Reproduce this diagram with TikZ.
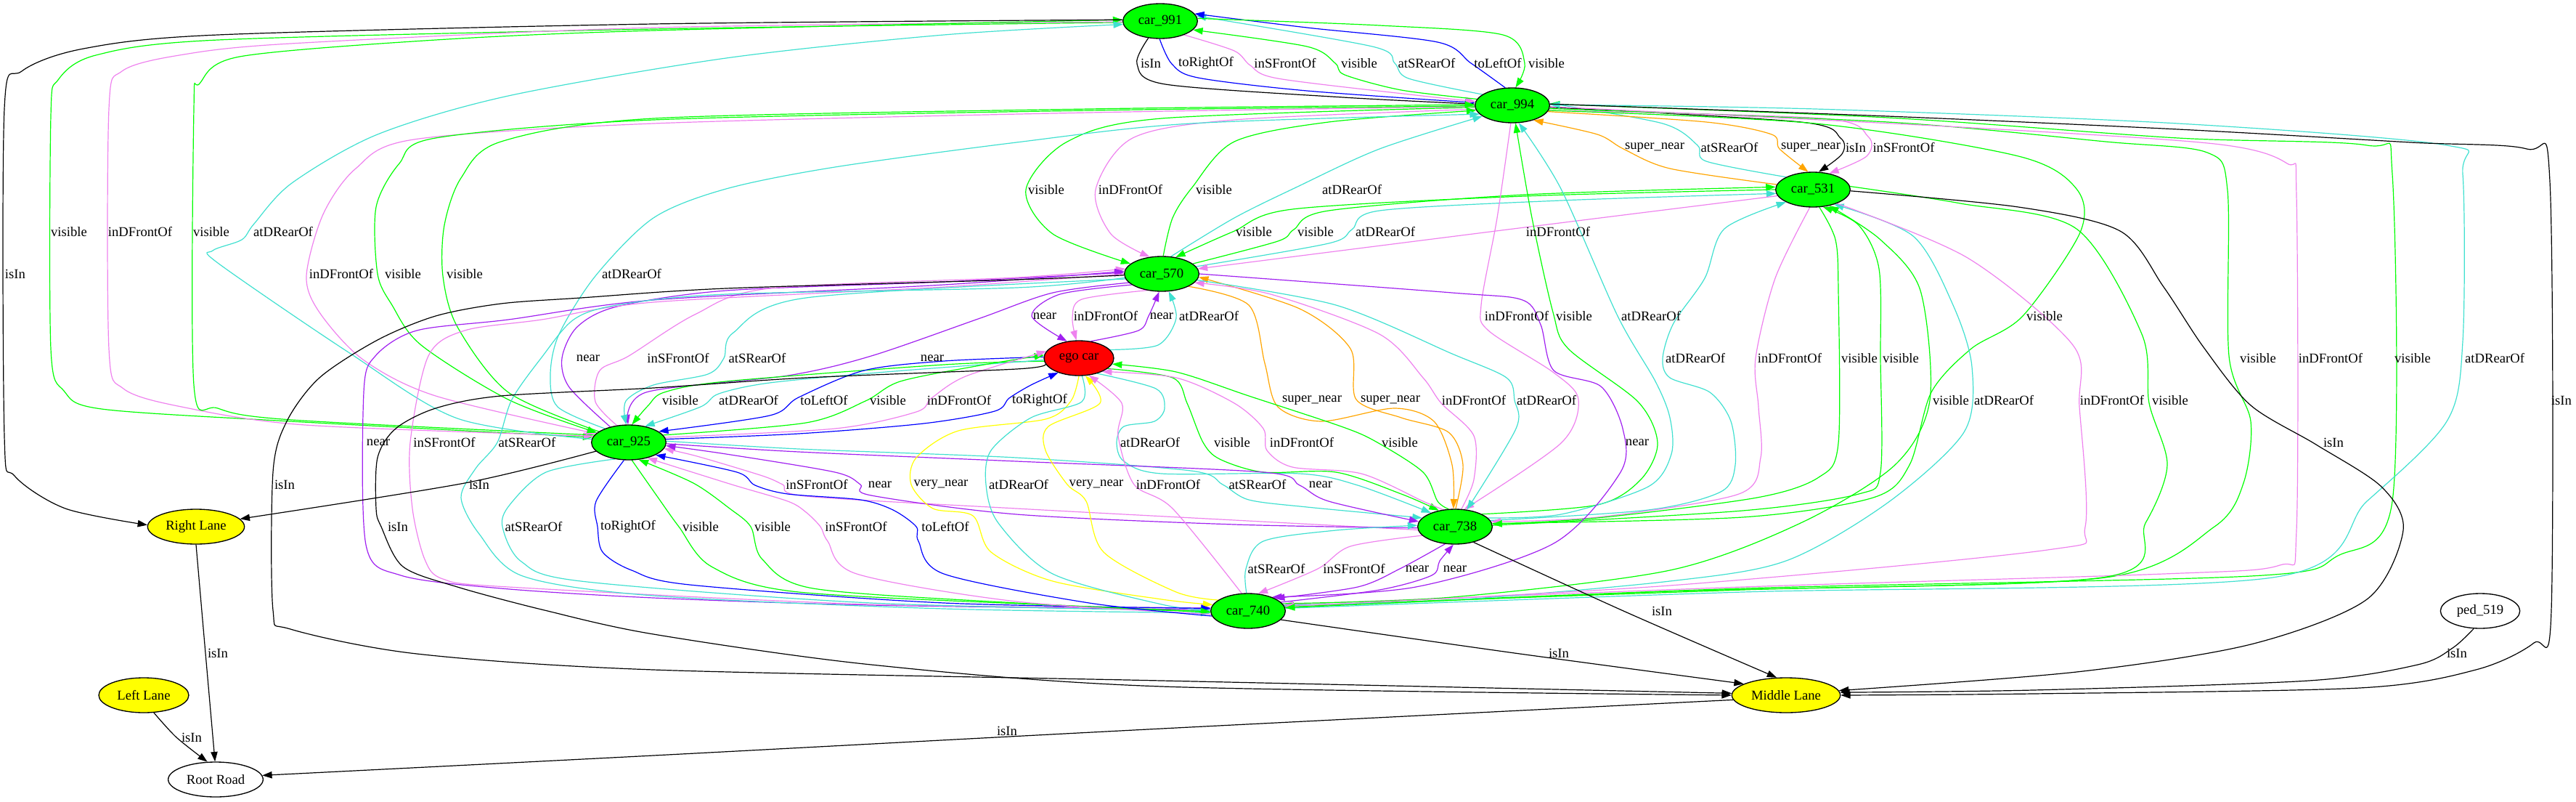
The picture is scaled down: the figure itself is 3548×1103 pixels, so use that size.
\documentclass[tikz,border=0pt]{standalone}
\usepackage{fontspec}
\setmainfont{Liberation Serif}
\usetikzlibrary{arrows.meta,shapes.geometric}
\definecolor{cgreen}{HTML}{00FF00}
\definecolor{cviolet}{HTML}{EE82EE}
\definecolor{cturq}{HTML}{40E0D0}
\definecolor{cblue}{HTML}{0000FF}
\definecolor{cpurple}{HTML}{A020F0}
\definecolor{corange}{HTML}{FFA500}
\definecolor{cyellow}{HTML}{FFFF00}
\definecolor{cred}{HTML}{FF0000}
\pgfdeclarelayer{bg}
\pgfsetlayers{bg,main}
\begin{document}
\begin{tikzpicture}[x=0.75pt,y=-0.75pt,
  every node/.style={font=\fontsize{14pt}{16pt}\selectfont},
  nd/.style={ellipse,draw=black,line width=1pt,inner sep=0pt,minimum height=36pt},
  car/.style={nd,fill=cgreen,minimum width=77pt},
  lane/.style={nd,fill=cyellow},
  lb/.style={inner sep=0pt},
  ed/.style={line width=0.9pt,-{Triangle[length=10pt,width=7pt]}},
]
\useasboundingbox (0,0) rectangle (3548,1103);
% nodes
\node[car] (N991) at (1598,29) {car\_991};
\node[car] (N994) at (2083,145) {car\_994};
\node[car] (N531) at (2497,261) {car\_531};
\node[car] (N570) at (1600,377) {car\_570};
\node[nd,fill=cred,minimum width=72pt] (Nego) at (1486,493) {ego car};
\node[car] (N925) at (866,609) {car\_925};
\node[car] (N738) at (2004,725) {car\_738};
\node[car] (N740) at (1719,841) {car\_740};
\node[lane,minimum width=100pt] (NRL) at (270,725) {Right Lane};
\node[lane,minimum width=93pt] (NLL) at (198,957) {Left Lane};
\node[nd,fill=white,minimum width=98pt] (NRR) at (297,1073) {Root Road};
\node[lane,minimum width=112pt] (NML) at (2460,957) {Middle Lane};
\node[nd,fill=white,minimum width=82pt] (Nped) at (3416,841) {ped\_519};
% labels
\node[lb] (l1) at (1585,87) {isIn};
\node[lb] (l2) at (1661,87) {toRightOf};
\node[lb] (l3) at (1770,87) {inSFrontOf};
\node[lb] (l4) at (1872,87) {visible};
\node[lb] (l5) at (1965,87) {atSRearOf};
\node[lb] (l6) at (2063,87) {toLeftOf};
\node[lb] (l7) at (2130,87) {visible};
\node[lb] (l8) at (2279,203) {super\_near};
\node[lb] (l9) at (2382,203) {atSRearOf};
\node[lb] (l10) at (2494,203) {super\_near};
\node[lb] (l11) at (2556,203) {isIn};
\node[lb] (l12) at (2622,203) {inSFrontOf};
\node[lb] (l13) at (1441,261) {visible};
\node[lb] (l14) at (1557,261) {inDFrontOf};
\node[lb] (l15) at (1672,261) {visible};
\node[lb] (l16) at (1862,261) {atDRearOf};
\node[lb] (l17) at (1727,319) {visible};
\node[lb] (l18) at (1812,319) {visible};
\node[lb] (l19) at (1908,319) {atDRearOf};
\node[lb] (l20) at (2146,319) {inDFrontOf};
\node[lb] (l21) at (95,319) {visible};
\node[lb] (l22) at (193,319) {inDFrontOf};
\node[lb] (l23) at (291,319) {visible};
\node[lb] (l24) at (390,319) {atDRearOf};
\node[lb] (l25) at (21,377) {isIn};
\node[lb] (l26) at (470,377) {inDFrontOf};
\node[lb] (l27) at (555,377) {visible};
\node[lb] (l28) at (640,377) {visible};
\node[lb] (l29) at (870,377) {atDRearOf};
\node[lb] (l30) at (1439,435) {near};
\node[lb] (l31) at (1523,435) {inDFrontOf};
\node[lb] (l32) at (1600,435) {near};
\node[lb] (l33) at (1665,435) {atDRearOf};
\node[lb] (l34) at (2089,435) {inDFrontOf};
\node[lb] (l35) at (2168,435) {visible};
\node[lb] (l36) at (2274,435) {atDRearOf};
\node[lb] (l37) at (2816,435) {visible};
\node[lb] (l38) at (1284,493) {near};
\node[lb] (l39) at (810,493) {near};
\node[lb] (l40) at (934,493) {inSFrontOf};
\node[lb] (l41) at (1043,493) {atSRearOf};
\node[lb] (l42) at (2335,493) {atDRearOf};
\node[lb] (l43) at (2465,493) {inDFrontOf};
\node[lb] (l44) at (2561,493) {visible};
\node[lb] (l45) at (2618,493) {visible};
\node[lb] (l46) at (3110,493) {visible};
\node[lb] (l47) at (3210,493) {inDFrontOf};
\node[lb] (l48) at (3323,493) {visible};
\node[lb] (l49) at (3436,493) {atDRearOf};
\node[lb] (l50) at (937,551) {visible};
\node[lb] (l51) at (1031,551) {atDRearOf};
\node[lb] (l52) at (1135,551) {toLeftOf};
\node[lb] (l53) at (1223,551) {visible};
\node[lb] (l54) at (1321,551) {inDFrontOf};
\node[lb] (l55) at (1432,551) {toRightOf};
\node[lb] (l56) at (1807,551) {super\_near};
\node[lb] (l57) at (1915,551) {super\_near};
\node[lb] (l58) at (2030,551) {inDFrontOf};
\node[lb] (l59) at (2130,551) {atDRearOf};
\node[lb] (l60) at (2687,551) {visible};
\node[lb] (l61) at (2760,551) {atDRearOf};
\node[lb] (l62) at (2909,551) {inDFrontOf};
\node[lb] (l63) at (2989,551) {visible};
\node[lb] (l93) at (3528,551) {isIn};
\node[lb] (l64) at (1584,609) {atDRearOf};
\node[lb] (l65) at (1697,609) {visible};
\node[lb] (l66) at (1793,609) {inDFrontOf};
\node[lb] (l67) at (1928,609) {visible};
\node[lb] (l68) at (2255,609) {near};
\node[lb] (l69) at (521,609) {near};
\node[lb] (l70) at (612,609) {inSFrontOf};
\node[lb] (l71) at (726,609) {atSRearOf};
\node[lb] (l72) at (3214,609) {isIn};
\node[lb] (l73) at (660,667) {isIn};
\node[lb] (l74) at (1125,667) {inSFrontOf};
\node[lb] (l75) at (1212,667) {near};
\node[lb] (l76) at (1296,667) {very\_near};
\node[lb] (l77) at (1403,667) {atDRearOf};
\node[lb] (l78) at (1510,667) {very\_near};
\node[lb] (l79) at (1609,667) {inDFrontOf};
\node[lb] (l80) at (1732,667) {atSRearOf};
\node[lb] (l81) at (1819,667) {near};
\node[lb] (l89) at (392,667) {isIn};
\node[lb] (l82) at (735,725) {atSRearOf};
\node[lb] (l83) at (865,725) {toRightOf};
\node[lb] (l84) at (965,725) {visible};
\node[lb] (l85) at (1064,725) {visible};
\node[lb] (l86) at (1179,725) {inSFrontOf};
\node[lb] (l87) at (1302,725) {toLeftOf};
\node[lb] (l88) at (548,725) {isIn};
\node[lb] (l97) at (1758,783) {atSRearOf};
\node[lb] (l98) at (1865,783) {inSFrontOf};
\node[lb] (l99) at (1952,783) {near};
\node[lb] (l100) at (2004,783) {near};
\node[lb] (l90) at (2289,841) {isIn};
\node[lb] (l91) at (2147,899) {isIn};
\node[lb] (l92) at (3384,899) {isIn};
\node[lb] (l94) at (300,899) {isIn};
\node[lb] (l95) at (264,1015) {isIn};
\node[lb] (l96) at (1387,1006) {isIn};
% edges
\begin{pgfonlayer}{bg}
% 991 <-> 994
\draw[ed,black] plot[smooth] coordinates {(N991.235) (1566,88) (1605,116) (1850,134) (N994.178)};
\draw[ed,cblue] plot[smooth] coordinates {(N991.268) (1614,88) (1650,107) (1800,125) (N994.176)};
\draw[ed,cviolet] plot[smooth] coordinates {(N991.330) (1700,70) (1722,90) (1760,108) (1950,131) (N994.174)};
\draw[ed,cgreen] plot[smooth] coordinates {(N994.170) (1930,124) (1852,103) (1839,87) (1800,64) (N991.345)};
\draw[ed,cturq] plot[smooth] coordinates {(N994.160) (1940,108) (1921,87) (1890,64) (N991.8)};
\draw[ed,cblue] plot[smooth] coordinates {(N994.112) (2026,87) (1980,58) (1800,38) (N991.12)};
\draw[ed,cgreen] plot[smooth] coordinates {(N991.4) (1900,35) (2070,48) (2100,87) (N994.80)};
% 994 <-> 531
\draw[ed,corange] plot[smooth] coordinates {(N531.172) (2300,232) (2236,205) (2200,185) (N994.325)};
\draw[ed,cturq] plot[smooth] coordinates {(N531.155) (2350,222) (2338,200) (2290,170) (N994.3)};
\draw[ed,corange] plot[smooth] coordinates {(N994.350) (2350,168) (2440,185) (2451,205) (N531.105)};
\draw[ed,black] plot[smooth] coordinates {(N994.357) (2480,168) (2535,190) (2537,212) (N531.72)};
\draw[ed,cviolet] plot[smooth] coordinates {(N994.352) (2510,163) (2573,188) (2571,215) (N531.45)};
% 994 <-> 570
\draw[ed,cgreen] plot[smooth] coordinates {(N994.183) (1600,163) (1470,195) (1413,261) (1450,322) (N570.162)};
\draw[ed,cviolet] plot[smooth] coordinates {(N994.186) (1700,165) (1560,190) (1509,261) (1530,322) (N570.125)};
\draw[ed,cgreen] plot[smooth] coordinates {(N570.85) (1615,300) (1642,258) (1700,195) (1830,168) (N994.188)};
\draw[ed,cturq] plot[smooth] coordinates {(N570.62) (1700,300) (1785,258) (1900,205) (N994.200)};
% 531 <-> 570
\draw[ed,cgreen] plot[smooth] coordinates {(N531.180) (2100,270) (1780,288) (1698,319) (N570.50)};
\draw[ed,cgreen] plot[smooth] coordinates {(N570.18) (1760,332) (1782,316) (1830,290) (2100,268) (N531.176)};
\draw[ed,cturq] plot[smooth] coordinates {(N570.12) (1830,335) (1862,316) (1900,290) (2150,276) (N531.186)};
\draw[ed,cviolet] plot[smooth] coordinates {(N531.190) (2100,313) (N570.8)};
% 991 <-> 925 (left)
\draw[ed,cgreen] plot[smooth] coordinates {(N991.182) (900,40) (300,55) (132,76) (80,110) (70,160) (70,480) (88,538) (140,563) (400,580) (N925.172)};
\draw[ed,cviolet] plot[smooth] coordinates {(N991.181) (900,38) (400,60) (247,76) (168,98) (150,150) (150,480) (170,535) (250,560) (420,585) (N925.170)};
\draw[ed,cgreen] plot[smooth] coordinates {(N925.168) (402,578) (300,562) (267,530) (267,150) (275,115) (330,78) (600,55) (900,42) (N991.178)};
\draw[ed,cturq] plot[smooth] coordinates {(N925.175) (630,576) (480,485) (300,362) (293,345) (333,330) (350,308) (402,252) (520,185) (700,132) (1000,80) (1300,48) (N991.185)};
\draw[ed,black] plot[smooth] coordinates {(N991.178) (900,33) (300,48) (115,67) (30,98) (6,150) (6,600) (20,655) (90,700) (NRL.178)};
% 994 <-> 925
\draw[ed,cviolet] plot[smooth] coordinates {(N994.182) (1500,155) (900,170) (570,192) (490,232) (445,295) (422,380) (440,430) (500,495) (600,545) (N925.165)};
\draw[ed,cgreen] plot[smooth] coordinates {(N994.181) (1500,152) (900,165) (600,190) (550,225) (518,285) (520,377) (540,420) (580,475) (700,550) (N925.163)};
\draw[ed,cgreen] plot[smooth] coordinates {(N925.160) (700,540) (630,450) (610,380) (612,310) (635,245) (690,195) (900,163) (1500,150) (N994.179)};
\draw[ed,cturq] plot[smooth] coordinates {(N925.150) (768,560) (758,515) (770,460) (820,380) (900,300) (1000,260) (1150,230) (1400,196) (1640,170) (N994.195)};
% 570 <-> ego
\draw[ed,cpurple] plot[smooth] coordinates {(N570.200) (1460,405) (1421,435) (Nego.125)};
\draw[ed,cviolet] plot[smooth] coordinates {(N570.228) (1490,412) (1477,437) (Nego.98)};
\draw[ed,cpurple] plot[smooth] coordinates {(Nego.55) (1568,455) (1582,435) (N570.262)};
\draw[ed,cturq] plot[smooth] coordinates {(Nego.15) (1595,475) (1620,438) (N570.292)};
% 994 <-> 738
\draw[ed,cviolet] plot[smooth] coordinates {(N994.265) (2062,300) (2040,420) (2050,455) (2140,513) (2174,550) (2150,610) (N738.62)};
\draw[ed,cgreen] plot[smooth] coordinates {(N738.25) (2200,695) (2260,660) (2283,610) (2256,553) (2160,480) (2139,430) (2110,300) (N994.280)};
\draw[ed,cturq] plot[smooth] coordinates {(N738.15) (2150,708) (2270,670) (2302,625) (2300,575) (2280,525) (2228,435) (2150,260) (N994.290)};
\draw[ed,cgreen] plot[smooth] coordinates {(N994.352) (2500,170) (2780,215) (2860,260) (2865,320) (2786,435) (2715,480) (2660,540) (2630,640) (2580,685) (2400,712) (N738.5)};
% 570 <-> 925
\draw[ed,cpurple] plot[smooth] coordinates {(N570.195) (1450,403) (1350,438) (1200,490) (1085,517) (890,540) (N925.92)};
\draw[ed,cpurple] plot[smooth] coordinates {(N925.140) (784,533) (774,493) (795,450) (850,422) (1000,400) (1300,388) (N570.178)};
\draw[ed,cviolet] plot[smooth] coordinates {(N925.125) (820,553) (826,510) (866,490) (957,433) (1060,397) (1400,382) (N570.172)};
\draw[ed,cturq] plot[smooth] coordinates {(N570.188) (1110,410) (1010,458) (997,493) (975,515) (900,530) (862,552) (N925.98)};
% 531 <-> 738
\draw[ed,cturq] plot[smooth] coordinates {(N738.10) (2270,702) (2370,677) (2390,640) (2384,580) (2355,540) (2300,520) (2290,493) (2305,445) (2348,383) (2375,315) (N531.205)};
\draw[ed,cviolet] plot[smooth] coordinates {(N531.260) (2445,383) (2418,493) (2422,560) (2425,630) (2395,680) (2200,712) (N738.8)};
\draw[ed,cgreen] plot[smooth] coordinates {(N531.290) (2528,330) (2532,400) (2532,610) (2505,657) (2420,685) (2200,713) (N738.4)};
\draw[ed,cgreen] plot[smooth] coordinates {(N738.2) (2400,703) (2560,680) (2590,650) (2590,493) (2588,370) (2560,310) (N531.300)};
% 994 <-> 740 (far right)
\draw[ed,cgreen] plot[smooth] coordinates {(N994.355) (2600,168) (2900,195) (3040,210) (3068,262) (3070,490) (3100,580) (3090,665) (3050,725) (2900,795) (2400,812) (N740.8)};
\draw[ed,cviolet] plot[smooth] coordinates {(N994.358) (2700,175) (3050,198) (3150,225) (3163,270) (3163,730) (3140,778) (2980,790) (2400,808) (N740.10)};
\draw[ed,cgreen] plot[smooth] coordinates {(N740.6) (2400,810) (3100,793) (3220,765) (3295,690) (3295,240) (3260,200) (3000,190) (2600,162) (N994.2)};
\draw[ed,cturq] plot[smooth] coordinates {(N740.4) (2400,815) (3130,795) (3260,690) (3370,580) (3392,470) (3392,240) (3370,200) (3000,170) (2500,150) (N994.1)};
% ego <-> 925
\draw[ed,cgreen] plot[smooth] coordinates {(Nego.185) (1300,502) (1000,525) (915,540) (893,558) (N925.80)};
\draw[ed,cturq] plot[smooth] coordinates {(Nego.183) (1220,512) (1060,527) (990,542) (965,560) (N925.45)};
\draw[ed,cblue] plot[smooth] coordinates {(Nego.178) (1300,497) (1190,510) (1100,547) (1060,572) (N925.20)};
\draw[ed,cgreen] plot[smooth] coordinates {(N925.12) (1110,582) (1192,552) (1240,525) (1350,503) (Nego.175)};
\draw[ed,cviolet] plot[smooth] coordinates {(N925.8) (1150,590) (1262,567) (1283,548) (1330,518) (Nego.168)};
\draw[ed,cblue] plot[smooth] coordinates {(N925.5) (1100,597) (1272,583) (1370,566) (1390,548) (1420,530) (Nego.215)};
% 570 <-> 738
\draw[ed,corange] plot[smooth] coordinates {(N570.335) (1720,420) (1742,500) (1760,560) (1820,580) (1920,562) (1975,580) (2000,640) (N738.95)};
\draw[ed,corange] plot[smooth] coordinates {(N738.88) (2015,640) (1995,595) (1930,575) (1868,550) (1860,480) (1790,425) (N570.355)};
\draw[ed,cviolet] plot[smooth] coordinates {(N738.70) (2030,660) (2030,600) (1985,555) (1960,520) (1900,460) (1750,405) (N570.345)};
\draw[ed,cturq] plot[smooth] coordinates {(N570.350) (1840,420) (2000,487) (2075,520) (2086,551) (2088,590) (N738.55)};
% 531 <-> 740
\draw[ed,cgreen] plot[smooth] coordinates {(N740.12) (2000,822) (2300,785) (2480,720) (2610,640) (2658,551) (2645,400) (2590,330) (N531.315)};
\draw[ed,cturq] plot[smooth] coordinates {(N740.9) (2000,826) (2300,800) (2460,772) (2600,692) (2705,595) (2716,505) (2690,420) (2635,325) (N531.325)};
\draw[ed,cviolet] plot[smooth] coordinates {(N531.330) (2710,355) (2855,475) (2864,560) (2872,725) (2820,757) (2300,806) (N740.7)};
\draw[ed,cgreen] plot[smooth] coordinates {(N531.5) (2700,280) (2860,315) (2950,460) (2960,555) (2985,640) (2955,720) (2895,795) (2300,814) (N740.5)};
% ego <-> 738
\draw[ed,cturq] plot[smooth] coordinates {(Nego.320) (1592,535) (1604,562) (1590,580) (1548,587) (1538,609) (1548,635) (1600,652) (1790,652) (1870,668) (N738.150)};
\draw[ed,cgreen] plot[smooth] coordinates {(Nego.340) (1615,520) (1635,555) (1657,609) (1680,632) (1740,650) (1840,650) (1930,680) (N738.135)};
\draw[ed,cviolet] plot[smooth] coordinates {(N738.125) (1960,690) (1875,652) (1780,643) (1745,620) (1740,590) (1700,555) (1620,520) (Nego.330)};
\draw[ed,cgreen] plot[smooth] coordinates {(N738.110) (1980,690) (1960,650) (1897,609) (1850,588) (1720,545) (1620,512) (Nego.350)};
% 570 -> 740 right
\draw[ed,cpurple] plot[smooth] coordinates {(N570.0) (2000,403) (2097,413) (2122,447) (2140,510) (2205,532) (2235,590) (2232,650) (2140,748) (1950,808) (N740.30)};
% 570 <-> 740 left
\draw[ed,cpurple] plot[smooth] coordinates {(N740.178) (1200,833) (900,823) (690,810) (552,792) (504,750) (501,540) (517,490) (574,455) (700,440) (900,413) (1300,392) (N570.176)};
\draw[ed,cviolet] plot[smooth] coordinates {(N570.180) (1300,395) (900,416) (746,440) (640,455) (590,490) (565,609) (568,700) (585,770) (610,797) (700,808) (1200,832) (N740.175)};
\draw[ed,cturq] plot[smooth] coordinates {(N570.186) (1400,396) (1000,405) (850,420) (790,440) (746,492) (705,550) (685,609) (655,645) (635,685) (660,735) (720,793) (900,820) (1300,838) (N740.183)};
% isIn edges
\draw[ed,black] plot[smooth] coordinates {(N531.358) (2780,285) (2920,318) (2980,395) (3035,478) (3100,558) (3190,612) (3280,670) (3310,730) (3260,825) (3100,887) (2860,925) (NML.5)};
\draw[ed,black] plot[smooth] coordinates {(N925.195) (640,665) (NRL.10)};
% 925 <-> 738
\draw[ed,cviolet] plot[smooth] coordinates {(N738.185) (1700,716) (1400,700) (1110,683) (1078,667) (1050,655) (960,628) (N925.350)};
\draw[ed,cpurple] plot[smooth] coordinates {(N738.182) (1700,722) (1400,708) (1200,682) (1185,667) (1150,650) (1000,625) (N925.355)};
\draw[ed,cturq] plot[smooth] coordinates {(N925.2) (1100,618) (1400,630) (1640,648) (1684,667) (1720,688) (1800,698) (N738.165)};
\draw[ed,cpurple] plot[smooth] coordinates {(N925.358) (1100,622) (1400,635) (1740,650) (1790,668) (1830,690) (N738.172)};
% ego <-> 740
\draw[ed,cyellow] plot[smooth] coordinates {(Nego.270) (1475,552) (1440,577) (1320,593) (1262,630) (1255,667) (1285,700) (1340,710) (1365,760) (1450,800) (1600,825) (N740.170)};
\draw[ed,cturq] plot[smooth] coordinates {(Nego.280) (1490,553) (1420,575) (1365,620) (1358,667) (1375,720) (1450,790) (1600,832) (N740.179)};
\draw[ed,cyellow] plot[smooth] coordinates {(N740.160) (1620,815) (1520,760) (1496,690) (1470,667) (1440,620) (1444,587) (1515,555) (Nego.290)};
\draw[ed,cviolet] plot[smooth] coordinates {(N740.110) (1615,700) (1562,667) (1540,600) (1545,555) (Nego.300)};
% 925 <-> 740
\draw[ed,cturq] plot[smooth] coordinates {(N925.230) (752,650) (702,695) (692,725) (718,773) (800,800) (1200,830) (N740.180)};
\draw[ed,cblue] plot[smooth] coordinates {(N925.255) (821,690) (823,725) (830,760) (870,785) (950,805) (1300,830) (N740.176)};
\draw[ed,cgreen] plot[smooth] coordinates {(N925.280) (905,683) (935,725) (980,780) (1100,815) (1500,835) (N740.181)};
\draw[ed,cgreen] plot[smooth] coordinates {(N740.182) (1400,830) (1120,810) (1050,770) (1034,725) (1005,700) (955,665) (N925.300)};
\draw[ed,cviolet] plot[smooth] coordinates {(N740.185) (1400,828) (1180,790) (1140,745) (1130,725) (1110,705) (1085,690) (1008,667) (N925.320)};
\draw[ed,cblue] plot[smooth] coordinates {(N740.188) (1500,830) (1300,790) (1265,745) (1262,725) (1230,702) (1185,688) (1085,680) (1040,668) (1015,650) (N925.335)};
% lanes
\draw[ed,black] plot[smooth] coordinates {(Nego.190) (1400,508) (1110,520) (900,534) (690,545) (600,562) (545,590) (520,630) (518,700) (525,725) (555,780) (630,808) (750,840) (900,873) (1200,915) (1600,945) (NML.180)};
\draw[ed,black] plot[smooth] coordinates {(N570.182) (1400,385) (1000,397) (800,410) (690,418) (600,435) (520,468) (440,520) (395,580) (376,650) (376,840) (400,866) (574,900) (900,922) (1600,937) (NML.178)};
\draw[ed,black] plot[smooth] coordinates {(N738.320) (2236,841) (NML.118)};
\draw[ed,black] plot[smooth] coordinates {(N740.345) (2086,899) (NML.165)};
\draw[ed,black] plot[smooth] coordinates {(Nped.250) (3378,892) (3330,915) (3180,937) (2800,950) (NML.3)};
\draw[ed,black] plot[smooth] coordinates {(N994.2) (2600,160) (3000,178) (3320,196) (3480,205) (3512,250) (3514,840) (3490,885) (3410,922) (3250,947) (2800,955) (NML.0)};
\draw[ed,black] plot[smooth] coordinates {(NRL.270) (283,899) (NRR.92)};
\draw[ed,black] plot[smooth] coordinates {(NLL.300) (243,1015) (NRR.115)};
\draw[ed,black] plot[smooth] coordinates {(NML.185) (1600,1003) (900,1040) (NRR.5)};
% 738 <-> 740
\draw[ed,cturq] plot[smooth] coordinates {(N740.95) (1716,783) (1740,745) (1840,730) (N738.178)};
\draw[ed,cviolet] plot[smooth] coordinates {(N738.195) (1860,752) (1815,783) (N740.60)};
\draw[ed,cpurple] plot[smooth] coordinates {(N738.240) (1928,783) (1870,808) (N740.25)};
\draw[ed,cpurple] plot[smooth] coordinates {(N740.15) (1900,812) (1972,792) (1983,772) (N738.265)};
\end{pgfonlayer}
\end{tikzpicture}
\end{document}
